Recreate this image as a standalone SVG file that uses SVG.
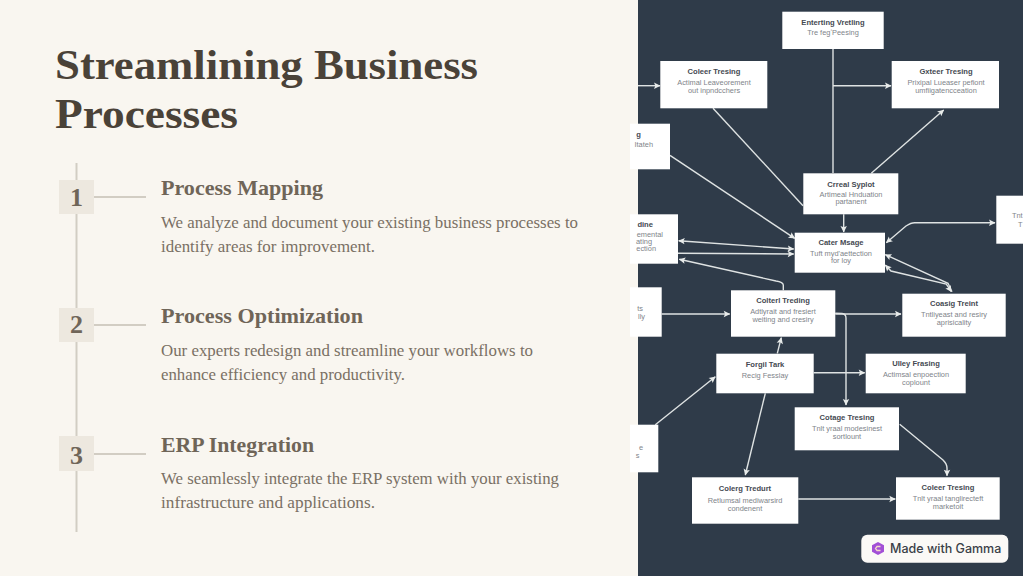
<svg xmlns="http://www.w3.org/2000/svg" width="1023" height="576" viewBox="0 0 1023 576">
<style>
.ser{font-family:"Liberation Serif","DejaVu Serif",serif}
.h1{font-size:42px;font-weight:700;fill:#4a4238}
.h2{font-size:21px;font-weight:700;fill:#6f6558}
.b{font-size:17px;fill:#7a7064}
.n{font-size:26px;font-weight:700;fill:#6f6558;text-anchor:middle}
.badge{fill:#ede8df}
.rule{stroke:#d2cdc3;stroke-width:2;fill:none}
.box{fill:#fff}
.t{font-family:"Liberation Sans",Arial,sans-serif;font-size:7.6px;font-weight:700;fill:#454a52;text-anchor:middle}
.s{font-family:"Liberation Sans",Arial,sans-serif;font-size:7.4px;fill:#80848a;text-anchor:middle}
.e{text-anchor:end}
.c{fill:none;stroke:#dfe3e3;stroke-width:1.4}
</style>
<defs>
<marker id="a" markerUnits="userSpaceOnUse" markerWidth="8" markerHeight="8" refX="6.500" refY="4" orient="auto-start-reverse"><path d="M0.500 0.800L7 4L0.500 7.200L1.800 4Z" fill="#e8ebea"/></marker>
</defs>
<rect width="1023" height="576" fill="#f9f6f0"/>
<rect x="638" width="385" height="576" fill="#2f3b49"/>
<g id="title">
<text class="ser h1" x="55" y="79" textLength="423" lengthAdjust="spacingAndGlyphs">Streamlining Business</text>
<text class="ser h1" x="55" y="128" textLength="183" lengthAdjust="spacingAndGlyphs">Processes</text>
</g>
<g id="timeline">
<path class="rule" d="M76.500 163V532M94 197H146M94 325H146M94 454H146"/>
</g>
<g id="step-1">
<rect class="badge" x="59" y="180" width="35" height="34"/>
<text class="ser n" x="76.500" y="206">1</text>
<text class="ser h2" x="161" y="195" textLength="162" lengthAdjust="spacingAndGlyphs">Process Mapping</text>
<text class="ser b" x="161" y="228" textLength="417" lengthAdjust="spacingAndGlyphs">We analyze and document your existing business processes to</text>
<text class="ser b" x="161" y="252" textLength="214" lengthAdjust="spacingAndGlyphs">identify areas for improvement.</text>
</g>
<g id="step-2">
<rect class="badge" x="59" y="308" width="35" height="34"/>
<text class="ser n" x="76.500" y="333">2</text>
<text class="ser h2" x="161" y="323" textLength="202" lengthAdjust="spacingAndGlyphs">Process Optimization</text>
<text class="ser b" x="161" y="356" textLength="372" lengthAdjust="spacingAndGlyphs">Our experts redesign and streamline your workflows to</text>
<text class="ser b" x="161" y="380" textLength="244" lengthAdjust="spacingAndGlyphs">enhance efficiency and productivity.</text>
</g>
<g id="step-3">
<rect class="badge" x="59" y="436" width="35" height="35"/>
<text class="ser n" x="76.500" y="464">3</text>
<text class="ser h2" x="161" y="452" textLength="153" lengthAdjust="spacingAndGlyphs">ERP Integration</text>
<text class="ser b" x="161" y="484" textLength="398" lengthAdjust="spacingAndGlyphs">We seamlessly integrate the ERP system with your existing</text>
<text class="ser b" x="161" y="508" textLength="214" lengthAdjust="spacingAndGlyphs">infrastructure and applications.</text>
</g>
<g id="connectors">
<path class="c" marker-end="url(#a)" d="M638 85.700H660"/>
<path class="c" d="M833 49V173"/>
<path class="c" marker-end="url(#a)" d="M833 85.700H891"/>
<path class="c" marker-end="url(#a)" d="M871.300 173.300L943.700 110"/>
<path class="c" d="M713 108.300L803 205.700"/>
<path class="c" marker-end="url(#a)" d="M670 155.300L794.700 238.300"/>
<path class="c" marker-end="url(#a)" d="M843.700 214.300V232"/>
<path class="c" marker-start="url(#a)" marker-end="url(#a)" d="M678.700 240.700L793.700 249"/>
<path class="c" marker-end="url(#a)" d="M678 253.300L793.700 254"/>
<path class="c" marker-end="url(#a)" d="M783.300 290.300V285Q783 282 776 281L679.300 259.300"/>
<path class="c" marker-start="url(#a)" marker-end="url(#a)" d="M995 222.700H914.700Q911 222.700 906 226L886.300 242.700"/>
<path class="c" marker-start="url(#a)" d="M885.300 254.700L948 283.300L952 291.700"/>
<path class="c" marker-start="url(#a)" marker-end="url(#a)" d="M885.300 265L891 271L946.300 284L951.300 291.700"/>
<path class="c" marker-end="url(#a)" d="M661.700 314H729.700"/>
<path class="c" marker-end="url(#a)" d="M835.300 314H901"/>
<path class="c" marker-end="url(#a)" d="M835.300 313.300L842 313.500Q846 314 846 318V405"/>
<path class="c" marker-end="url(#a)" d="M777.300 353.300L781.300 337.700"/>
<path class="c" marker-end="url(#a)" d="M813.700 372.700H864.700"/>
<path class="c" marker-end="url(#a)" d="M655.300 424.700L715.300 376.700"/>
<path class="c" marker-end="url(#a)" d="M765.300 393.300L745.300 475"/>
<path class="c" marker-end="url(#a)" d="M899.700 424.300L943 460Q947 464 947 468V475.700"/>
<path class="c" marker-end="url(#a)" d="M798.300 499H895.300"/>
</g>
<g id="node-a"><rect class="box" x="782.300" y="11.700" width="101.400" height="37.300"/><text class="t" x="833" y="25">Enterting Vretling</text><text class="s" x="833" y="35">Tre fegʻPeesing</text></g>
<g id="node-b"><rect class="box" x="660.300" y="61" width="107" height="47.300"/><text class="t" x="714" y="74">Coleer Tresing</text><text class="s" x="714" y="85">Actimal Leaveorement</text><text class="s" x="714" y="93">out inpndcchers</text></g>
<g id="node-c"><rect class="box" x="891.700" y="61" width="107.300" height="47.300"/><text class="t" x="946" y="74">Gxteer Tresing</text><text class="s" x="946" y="85">Prixipal Lueaser pefiont</text><text class="s" x="946" y="93">umfiigatencceation</text></g>
<g id="node-d"><rect class="box" x="630" y="123.700" width="40" height="45.600"/><text class="t e" x="641" y="137">g</text><text class="s e" x="653" y="147">Itateh</text></g>
<g id="node-e"><rect class="box" x="803.300" y="173.300" width="95" height="41"/><text class="t" x="851" y="187">Crreal Syplot</text><text class="s" x="851" y="196.500">Artimeal Hnduation</text><text class="s" x="851" y="204">partanent</text></g>
<g id="node-f"><rect class="box" x="996.300" y="195.700" width="30" height="48"/><text class="s" x="1012" y="218" style="text-anchor:start">Tnt</text><text class="s" x="1018" y="227" style="text-anchor:start">T</text></g>
<g id="node-g"><rect class="box" x="794.700" y="232.700" width="90.300" height="40"/><text class="t" x="841" y="245">Cater Msage</text><text class="s" x="841" y="255.500">Tuft myd'aettection</text><text class="s" x="841" y="262.500">for loy</text></g>
<g id="node-h"><rect class="box" x="630" y="214.300" width="48" height="49.400"/><text class="t e" x="653" y="227">dine</text><text class="s e" x="663" y="237">emental</text><text class="s e" x="652" y="244">ating</text><text class="s e" x="656" y="251">ection</text></g>
<g id="node-i"><rect class="box" x="731" y="290.300" width="104.300" height="46.400"/><text class="t" x="783" y="303">Colterl Treding</text><text class="s" x="783" y="314">Adtlyrait and fresiert</text><text class="s" x="783" y="322">weiting and cresiry</text></g>
<g id="node-j"><rect class="box" x="902.300" y="293.700" width="103.400" height="43"/><text class="t" x="954" y="306">Coasig Treint</text><text class="s" x="954" y="317">Tntliyeast and resiry</text><text class="s" x="954" y="325">aprisicality</text></g>
<g id="node-k"><rect class="box" x="630" y="287.300" width="31.700" height="49.400"/><text class="s e" x="643" y="311">ts</text><text class="s e" x="645" y="319">lly</text></g>
<g id="node-l"><rect class="box" x="716.300" y="353.700" width="97.400" height="39.600"/><text class="t" x="765" y="367">Forgil Tark</text><text class="s" x="765" y="378">Recig Fesslay</text></g>
<g id="node-m"><rect class="box" x="865.700" y="353.700" width="100" height="39.600"/><text class="t" x="916" y="366">Ulley Frasing</text><text class="s" x="916" y="377">Actimsal enpoection</text><text class="s" x="916" y="385">coplount</text></g>
<g id="node-n"><rect class="box" x="794.700" y="407.300" width="104.300" height="43"/><text class="t" x="847" y="420">Cotage Tresing</text><text class="s" x="847" y="431">Tnlt yraal modesinest</text><text class="s" x="847" y="439">sortlount</text></g>
<g id="node-o"><rect class="box" x="630" y="424.700" width="28.300" height="47.600"/><text class="s e" x="643" y="450">e</text><text class="s e" x="639.500" y="458">s</text></g>
<g id="node-p"><rect class="box" x="692" y="477.300" width="106.300" height="46.400"/><text class="t" x="745" y="491">Colerg Tredurt</text><text class="s" x="745" y="503">Retlumsal mediwarsird</text><text class="s" x="745" y="511">condenent</text></g>
<g id="node-q"><rect class="box" x="896" y="477.300" width="103.700" height="42.400"/><text class="t" x="948" y="490">Coleer Tresing</text><text class="s" x="948" y="501">Tnlt yraal tanglirecteft</text><text class="s" x="948" y="509">marketoit</text></g>
<g id="gamma-badge">
<rect x="861.300" y="534.700" width="147" height="28" rx="6" fill="#fbf9f6"/>
<path d="M878 542L884 545.300V551.700L878 555L872 551.700V545.300Z" fill="#a24fd6"/>
<path d="M880.500 546.500H877L875.500 548.500L877 550.500H880.500" fill="none" stroke="#f4d9c8" stroke-width="1.300"/>
<text x="890" y="553" font-family="Inter,'Liberation Sans',sans-serif" font-size="12.500" font-weight="500" fill="#3a3f47">Made with Gamma</text>
</g>
</svg>
